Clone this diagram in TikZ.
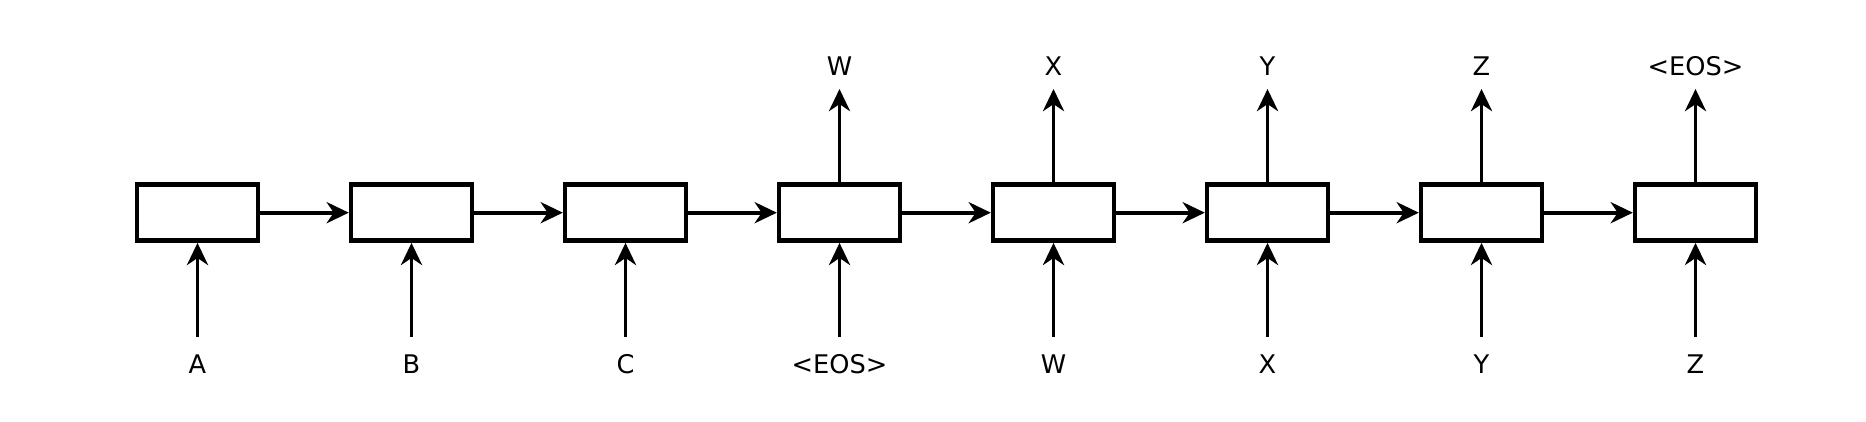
\documentclass[tikz,border=0pt]{standalone}
\usepackage{fontspec}
\setmainfont{DejaVu Sans}
\usetikzlibrary{arrows.meta}
\begin{document}
\begin{tikzpicture}[
    cella/.style={draw, line width=1.25pt, minimum width=1.21cm, minimum height=0.56cm, inner sep=0pt},
    freccia/.style={-{Stealth[length=6.3pt, width=6pt, inset=2pt]}, line width=1.05pt},
    etichetta/.style={anchor=base, inner sep=0pt, font=\fontsize{7.3pt}{8.5pt}\selectfont}
]
\useasboundingbox (0,0) rectangle (18.66,4.22);

% celle e ingressi
\foreach \ing [count=\i from 0] in {A,B,C,<EOS>,W,X,Y,Z}{
    \node[cella] (cella\i) at ({1.975+2.14*\i},2.093) {};
    \coordinate (piede\i) at ({1.975+2.14*\i},0.85);
    \node[etichetta] (ing\i) at ({1.975+2.14*\i},0.48) {\ing};
    \draw[freccia] (piede\i) -- (cella\i);
}

% collegamenti tra celle
\foreach \i [count=\j from 1] in {0,...,6}{
    \draw[freccia] (cella\i) -- (cella\j);
}

% uscite
\foreach \usc [count=\i from 3] in {W,X,Y,Z,<EOS>}{
    \coordinate (testa\i) at ({1.975+2.14*\i},3.33);
    \node[etichetta] (usc\i) at ({1.975+2.14*\i},3.46) {\usc};
    \draw[freccia] (cella\i) -- (testa\i);
}

\end{tikzpicture}
\end{document}
